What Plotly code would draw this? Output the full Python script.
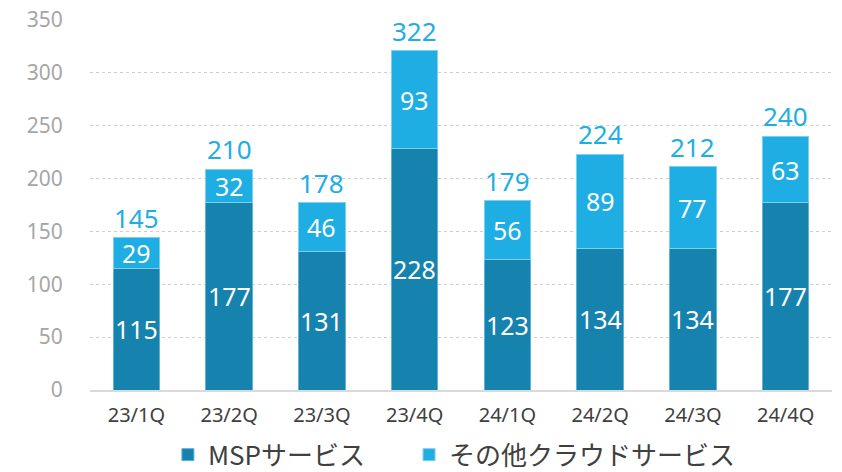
import plotly.graph_objects as go

quarters = ["23/1Q", "23/2Q", "23/3Q", "23/4Q", "24/1Q", "24/2Q", "24/3Q", "24/4Q"]
msp = [115, 177, 131, 228, 123, 134, 134, 177]
other_cloud = [29, 32, 46, 93, 56, 89, 77, 63]
totals = [145, 210, 178, 322, 179, 224, 212, 240]

c_msp = "#1682AE"
c_other = "#1EAEE3"
num_font = "Noto Sans"
jp_font = "Noto Sans CJK JP"

fig = go.Figure()
fig.add_trace(go.Bar(x=quarters, y=msp, name="MSPサービス", legend="legend",
                     marker=dict(color=c_msp, line=dict(color="#5FB3D6", width=1))))
fig.add_trace(go.Bar(x=quarters, y=other_cloud, name="その他クラウドサービス", legend="legend2",
                     marker=dict(color=c_other, line=dict(color="#7FD0EE", width=1))))

annotations = []
for q, a, b, t in zip(quarters, msp, other_cloud, totals):
    annotations.append(dict(x=q, y=a / 2, text=str(a), showarrow=False,
                            font=dict(family=num_font, size=25, color="white")))
    annotations.append(dict(x=q, y=a + b / 2, text=str(b), showarrow=False,
                            font=dict(family=num_font, size=25, color="white")))
    annotations.append(dict(x=q, y=a + b, text=str(t), showarrow=False, yanchor="bottom", yshift=0,
                            font=dict(family=num_font, size=26, color=c_other)))

legend_style = dict(orientation="h", yanchor="middle", y=-0.175, xanchor="left",
                    font=dict(family=jp_font, size=26, color="#404040"),
                    itemwidth=30, bgcolor="rgba(0,0,0,0)")

fig.update_layout(
    barmode="stack",
    bargap=0.5,
    width=842, height=472,
    margin=dict(l=90, r=10, t=20, b=82, autoexpand=False),
    plot_bgcolor="white", paper_bgcolor="white",
    annotations=annotations,
    showlegend=True,
    legend=dict(x=0.105, **legend_style),
    legend2=dict(x=0.43, **legend_style),
    xaxis=dict(tickfont=dict(family=num_font, size=20, color="#404040"),
               showline=True, linecolor="#D9D9D9", linewidth=2,
               ticks="outside", ticklen=6, tickcolor="white", showgrid=False),
    yaxis=dict(range=[0, 350], dtick=50, tickfont=dict(family=num_font, size=21, color="#A6A6A6"),
               showgrid=True, gridcolor="#CFCFCF", griddash="dot", gridwidth=1,
               zeroline=False, ticks="outside", ticklen=22, tickcolor="white"),
)

fig.write_html("out.html")
